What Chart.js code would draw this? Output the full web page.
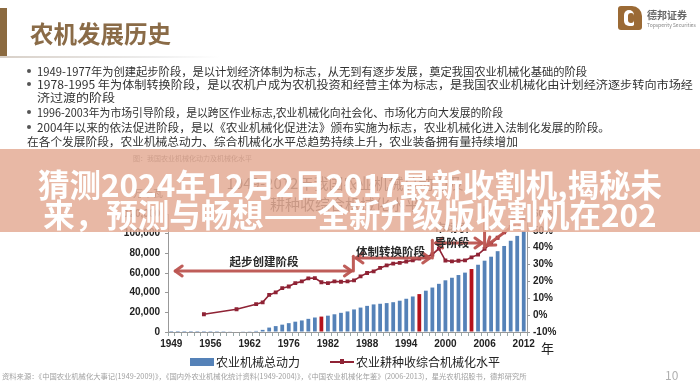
<!DOCTYPE html>
<html><head><meta charset="utf-8">
<script src="https://cdn.jsdelivr.net/npm/chart.js@4.4.1/dist/chart.umd.min.js"></script>
<style>
html,body{margin:0;padding:0;background:#fff;}
#wrap{position:relative;width:700px;height:383px;overflow:hidden;font-family:"Noto Sans CJK SC","Noto Sans",sans-serif;background:#fff;}
#c{position:absolute;left:0;top:0;z-index:1;}
.t{position:absolute;white-space:nowrap;z-index:2;}
.bul{font-size:11.7px;color:#333;line-height:14px;height:14px;transform-origin:0 50%;}
.dot{position:absolute;width:4px;height:4px;border-radius:2px;background:#555;}
#banner{position:absolute;left:0;top:149px;width:700px;height:83px;background:rgba(228,172,150,0.86);z-index:5;}
.bt{position:absolute;left:0;width:700px;text-align:center;color:#fff;font-weight:bold;font-size:31.5px;line-height:30px;white-space:nowrap;z-index:6;}
</style></head><body>
<div id="wrap">
  <div style="position:absolute;left:0;top:8px;width:7px;height:48px;background:#8b6a40;"></div>
  <div class="t" style="left:30px;top:18px;font-size:23.5px;line-height:30px;font-weight:bold;color:#8a6b47;">农机发展历史</div>
  <div style="position:absolute;left:0;top:56px;width:220px;height:2px;background:linear-gradient(90deg,#d8d0c8,#eeeeee 70%,rgba(255,255,255,0));"></div>
  <div style="position:absolute;left:618px;top:6px;width:24px;height:24px;background:#9b6a35;border-radius:3px 10px 3px 3px;"></div>
  <div style="position:absolute;left:624px;top:10px;width:10px;height:16px;background:#fff;border-radius:6px 6px 2px 6px;"></div>
  <div style="position:absolute;left:628px;top:13px;width:6px;height:10px;background:#9b6a35;border-radius:4px;"></div>
  <div class="t" style="left:647px;top:9px;font-size:10px;line-height:12px;font-weight:bold;color:#666;">德邦证券</div>
  <div class="t" style="left:647px;top:22px;font-size:5px;line-height:6px;color:#888;">Topsperity Securities</div>

  <div class="dot" style="left:27px;top:69px;"></div>
  <div class="t bul" data-w="550" style="left:37px;top:64px;">1949-1977年为创建起步阶段，是以计划经济体制为标志，从无到有逐步发展，奠定我国农业机械化基础的阶段</div>
  <div class="dot" style="left:27px;top:82px;"></div>
  <div class="t bul" data-w="656" style="left:37px;top:77px;">1978-1995 年为体制转换阶段，是以农机户成为农机投资和经营主体为标志，是我国农业机械化由计划经济逐步转向市场经</div>
  <div class="t bul" data-w="78" style="left:37px;top:90px;">济过渡的阶段</div>
  <div class="dot" style="left:27px;top:110px;"></div>
  <div class="t bul" data-w="466" style="left:37px;top:105px;">1996-2003年为市场引导阶段，是以跨区作业标志,农业机械化向社会化、市场化方向大发展的阶段</div>
  <div class="dot" style="left:27px;top:125px;"></div>
  <div class="t bul" data-w="573" style="left:37px;top:120px;">2004年以来的依法促进阶段，是以《农业机械化促进法》颁布实施为标志，农业机械化进入法制化发展的阶段。</div>
  <div class="t bul" style="left:27px;top:134px;">在各个发展阶段，农业机械总动力、综合机械化水平总趋势持续上升，农业装备拥有量持续增加</div>

  <div class="t" style="left:133px;top:153px;font-size:7px;line-height:10px;color:#444;">图：我国农业机械化动力及机械化水平</div>
  <div class="t" style="left:0;width:690px;text-align:center;top:174px;font-size:15px;line-height:18px;color:#222;">1949-2012年我国农业机械总动力及</div>
  <div class="t" style="left:0;width:690px;text-align:center;top:195px;font-size:15px;line-height:18px;color:#222;">耕种收综合机械化水平</div>
  <div class="t" style="left:133px;top:187px;font-size:10px;line-height:12px;color:#222;">万千瓦</div>

  <canvas id="c" width="700" height="383"></canvas>

  <div class="t" style="left:541px;top:340px;font-size:13px;line-height:16px;color:#222;">年</div>
  <div style="position:absolute;left:190px;top:358px;width:24px;height:8px;background:#5582b8;z-index:2;"></div>
  <div class="t" style="left:216px;top:354px;font-size:12px;line-height:16px;color:#222;">农业机械总动力</div>
  <div style="position:absolute;left:330px;top:361px;width:24px;height:2px;background:#8f2335;z-index:2;"></div>
  <div style="position:absolute;left:340px;top:359px;width:4px;height:5px;background:#8f2335;z-index:2;"></div>
  <div class="t" style="left:356px;top:354px;font-size:12px;line-height:16px;color:#222;">农业耕种收综合机械化水平</div>
  <div class="t" style="left:2px;top:371px;font-size:7.3px;line-height:10px;color:#a0a0a0;">资料来源：《中国农业机械化大事记(1949-2009)》，《国内外农业机械化统计资料(1949-2004)》，《中国农业机械化年鉴》(2006-2013)，星光农机招股书，德邦研究所</div>
  <div class="t" style="left:665px;top:368px;font-size:12px;line-height:14px;color:#b0b0b0;">10</div>

  <div id="banner"></div>
  <div class="bt" style="top:168px;">猜测2024年12月2日2017最新收割机,揭秘未</div>
  <div class="bt" style="top:198px;">来，预测与畅想——全新升级版收割机在202</div>
</div>
<script>
// fit bullet lines to their measured widths in the reference
document.querySelectorAll('.bul[data-w]').forEach(el => {
  const w = el.getBoundingClientRect().width;
  el.style.transform = 'scaleX(' + (parseFloat(el.dataset.w) / w) + ')';
});

// ---- data ----
const years = ['1949','1950','1952','1953','1954','1955','1956','1957','1958','1959','1960','1961','1962','1965','1970','1971','1973','1975',
  '1976','1977','1978','1979','1980','1981','1982','1983','1984','1985','1986','1987','1988','1989','1990','1991','1992','1993','1994','1995',
  '1996','1997','1998','1999','2000','2001','2002','2003','2004','2005','2006','2007','2008','2009','2010','2011','2012'];
const tickYears = ['1949','1956','1962','1976','1982','1988','1994','2000','2006','2012'];
const totalPower = [8,10,18,25,40,60,90,121,160,340,500,700,757,1099,2165,4500,6000,7479,
  9000,10500,11750,13379,14746,15680,16614,18022,19497,20913,22950,24836,26575,28067,28708,29389,30308,31817,33803,36118,
  38547,42016,45208,48996,52574,55172,57930,60387,64028,68398,72522,76590,82190,87496,92780,97735,102559];
const highlightYears = ['1981','1996','2004'];
const mechLevel = [null,null,null,null,null,0.5,null,null,null,null,3.5,null,null,6.5,7.6,12,13.5,16,
  17,19,20,21.8,22,19.5,19,20,19.8,20,20.6,23,25,26,28,29.5,30.6,31,31.8,32.5,
  33.5,34.5,36,39.5,32.4,31.9,32.3,32.5,34.3,35.9,39.3,42.5,45.9,49.1,52.3,54.8,57.2];
const phaseArrows = [[0.6,27.6,26.2],[28.3,39.6,33.9],[40.5,47.6,42.8]];
const phaseConnectors = [[27.9,26.2,35],[40,33.9,44.5],[48,40,64]];
const phaseDiagonal = [48.4,41.5,53.6,56.5];
const phaseTexts = [['起步创建阶段',14.2,31.5],['体制转换阶段',33.6,37.8],['市场引',43,51.8],['导阶段',43,43.0]];

const barColors = years.map(y => highlightYears.includes(y) ? '#b5121b' : '#5582b8');

const arrowColor = 'rgba(188,84,80,0.95)';
function head(ctx, x, y, dx, dy){
  const len = Math.hypot(dx,dy), ux = dx/len, uy = dy/len;
  const L = 7, W = 5;
  ctx.beginPath();
  ctx.moveTo(x - ux*L + uy*W, y - uy*L - ux*W);
  ctx.lineTo(x, y);
  ctx.lineTo(x - ux*L - uy*W, y - uy*L + ux*W);
  ctx.stroke();
}
const phasePlugin = {
  id:'phases',
  afterDatasetsDraw(chart){
    const ctx = chart.ctx, xs = chart.scales.x, ys = chart.scales.y1;
    ctx.save();
    ctx.strokeStyle = arrowColor; ctx.lineWidth = 3; ctx.lineCap = 'round'; ctx.lineJoin = 'round';
    phaseArrows.forEach(([a,b,l]) => {
      const x1 = xs.getPixelForValue(a), x2 = xs.getPixelForValue(b), y = ys.getPixelForValue(l);
      ctx.beginPath(); ctx.moveTo(x1,y); ctx.lineTo(x2,y); ctx.stroke();
      head(ctx, x1, y, -1, 0); head(ctx, x2, y, 1, 0);
    });
    phaseConnectors.forEach(([a,l1,l2]) => {
      const x = xs.getPixelForValue(a);
      ctx.beginPath(); ctx.moveTo(x, ys.getPixelForValue(l1)); ctx.lineTo(x, ys.getPixelForValue(l2)); ctx.stroke();
    });
    const [da,dl,db,dm] = phaseDiagonal;
    const dx1 = xs.getPixelForValue(da), dy1 = ys.getPixelForValue(dl), dx2 = xs.getPixelForValue(db), dy2 = ys.getPixelForValue(dm);
    ctx.beginPath(); ctx.moveTo(dx1,dy1); ctx.lineTo(dx2,dy2); ctx.stroke();
    head(ctx, dx2, dy2, dx2-dx1, dy2-dy1); head(ctx, dx1, dy1, dx1-dx2, dy1-dy2);
    ctx.fillStyle = '#2a2a2a'; ctx.font = 'bold 11.5px "Noto Sans CJK SC"'; ctx.textAlign = 'center'; ctx.textBaseline = 'middle';
    phaseTexts.forEach(([t,a,l]) => ctx.fillText(t, xs.getPixelForValue(a), ys.getPixelForValue(l)));
    ctx.restore();
  }
};

const tickFont = {family:'"Liberation Sans", Arial, sans-serif', size:10, weight:'bold'};
new Chart(document.getElementById('c'), {
  data:{
    labels: years,
    datasets:[
      {type:'line', label:'农业耕种收综合机械化水平', data:mechLevel, yAxisID:'y1', borderColor:'#8f2335', backgroundColor:'#8f2335',
        borderWidth:1.6, pointRadius:1.6, pointStyle:'rect', spanGaps:true, tension:0, order:0},
      {type:'bar', label:'农业机械总动力', data:totalPower, yAxisID:'y', backgroundColor:barColors, barPercentage:0.58, categoryPercentage:1, order:1}
    ]
  },
  options:{
    responsive:false, animation:false, events:[],
    layout:{padding:{left:118, right:128, top:214, bottom:27}},
    plugins:{legend:{display:false}, tooltip:{enabled:false}},
    scales:{
      x:{ticks:{autoSkip:false, maxRotation:0, minRotation:0, padding:2, color:'#222', font:tickFont,
            callback(v,i){ return tickYears.includes(years[i]) ? years[i] : ''; }},
         grid:{drawOnChartArea:false, tickLength:4, color:'#9aa'}, border:{color:'#999'},
         afterFit(s){ s.height = 24; }},
      y:{position:'left', min:0, max:120000, ticks:{stepSize:20000, padding:5, color:'#222', font:tickFont,
            callback:v => v.toLocaleString('en-US')},
         grid:{drawOnChartArea:false, tickLength:3, color:'#999'}, border:{color:'#999'},
         afterFit(s){ s.width = 50; }},
      y1:{position:'right', min:-10, max:60, ticks:{stepSize:10, padding:3, color:'#222', font:tickFont,
            callback:v => v + '%'},
         grid:{drawOnChartArea:false, tickLength:3, color:'#999'}, border:{color:'#999'},
         afterFit(s){ s.width = 45; }}
    }
  },
  plugins:[phasePlugin]
});
</script>
</body></html>
